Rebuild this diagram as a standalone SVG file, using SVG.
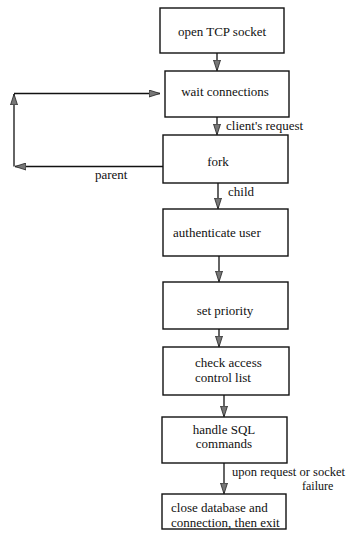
<svg xmlns="http://www.w3.org/2000/svg" width="348" height="539" viewBox="0 0 348 539">
<defs>
<marker id="ah" markerWidth="12" markerHeight="8" refX="11" refY="4" orient="auto" markerUnits="userSpaceOnUse">
<path d="M0,0.5 L11,4 L0,7.5 Z" fill="#777" stroke="#222" stroke-width="0.8"/>
</marker>
<style>
.box{fill:#fff;stroke:#111;stroke-width:1.4}
.t{font-family:"Liberation Serif","DejaVu Serif","Times New Roman",serif;font-size:13px;fill:#111}
.s{font-size:12px}
.c{fill:none;stroke:#111;stroke-width:1.3}
</style>
</defs>
<rect width="348" height="539" fill="#fff"/>
<g id="n1"><rect class="box" x="160" y="8" width="124" height="45"/><text class="t" x="222" y="36" text-anchor="middle">open TCP socket</text></g>
<g id="n2"><rect class="box" x="165" y="71" width="124" height="46"/><text class="t" x="225" y="96" text-anchor="middle">wait connections</text></g>
<g id="n3"><rect class="box" x="163" y="135" width="125" height="48"/><text class="t" x="218" y="166" text-anchor="middle">fork</text></g>
<g id="n4"><rect class="box" x="163" y="209" width="125" height="47"/><text class="t" x="173" y="237">authenticate user</text></g>
<g id="n5"><rect class="box" x="163" y="282" width="125" height="47"/><text class="t" x="225" y="315" text-anchor="middle">set priority</text></g>
<g id="n6"><rect class="box" x="163" y="347" width="126" height="48"/><text class="t" x="195" y="367">check access</text><text class="t" x="195" y="382">control list</text></g>
<g id="n7"><rect class="box" x="162" y="417" width="125" height="46"/><text class="t" x="224" y="434" text-anchor="middle">handle SQL</text><text class="t" x="224" y="448" text-anchor="middle">commands</text></g>
<g id="n8"><rect class="box" x="162" y="494" width="124" height="35"/><text class="t" x="171" y="512">close database and</text><text class="t" x="171" y="527">connection, then exit</text></g>
<g id="connectors">
<line class="c" x1="217" y1="53" x2="217" y2="71" marker-end="url(#ah)"/>
<line class="c" x1="217" y1="117" x2="217" y2="135" marker-end="url(#ah)"/>
<text class="t" x="226" y="130">client's request</text>
<line class="c" x1="218" y1="183" x2="218" y2="209" marker-end="url(#ah)"/>
<text class="t" x="228" y="196">child</text>
<line class="c" x1="219" y1="256" x2="219" y2="282" marker-end="url(#ah)"/>
<line class="c" x1="219" y1="329" x2="219" y2="347" marker-end="url(#ah)"/>
<line class="c" x1="224" y1="395" x2="224" y2="417" marker-end="url(#ah)"/>
<line class="c" x1="224" y1="463" x2="224" y2="494" marker-end="url(#ah)"/>
<text class="t s" x="232" y="476" textLength="113" lengthAdjust="spacingAndGlyphs">upon request or socket</text>
<text class="t s" x="302" y="490">failure</text>
<path class="c" d="M163,166.5 L15,166.5" marker-end="url(#ah)"/>
<path class="c" d="M14,166.5 L14,94" marker-end="url(#ah)"/>
<path class="c" d="M14,93.5 L160,93.5" marker-end="url(#ah)"/>
<text class="t" x="95" y="179">parent</text>
</g>
</svg>
